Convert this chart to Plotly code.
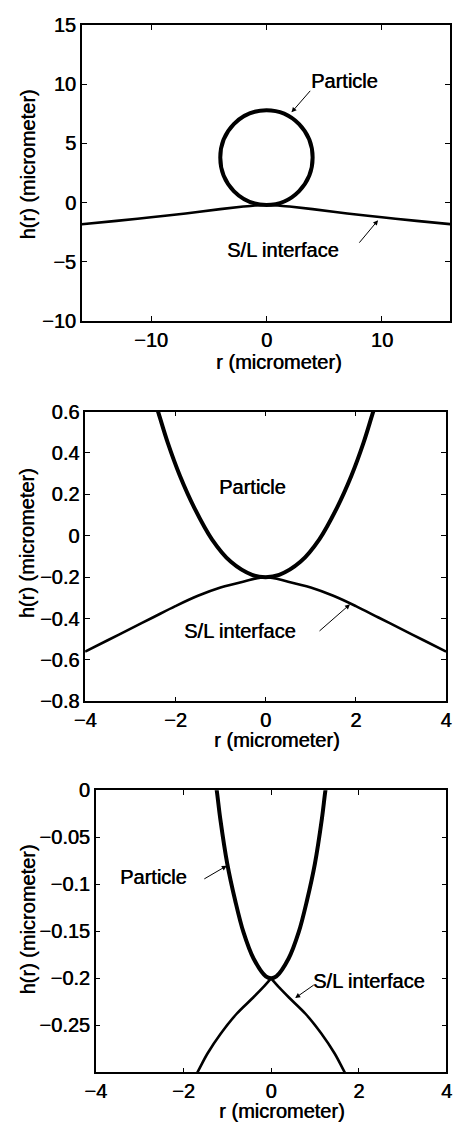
import plotly.graph_objects as go

# ---------------- data ----------------
# Panel 1 (wide view)
p1_particle_bounds = [-4.0, 4.0, -0.2, 7.8]   # left, right, bottom, top of the particle circle
p1_iface_r = [-16, -13, -10, -7, -4, -2, -1, 0, 1, 2, 4, 7, 10, 13, 16]
p1_iface_h = [-1.83, -1.55, -1.25, -0.93, -0.56, -0.34, -0.25, -0.2,
              -0.25, -0.34, -0.56, -0.93, -1.25, -1.55, -1.83]

# Panel 2 (medium zoom)
p2_part_r = [-2.5, -2.37, -2.17, -1.90, -1.58, -1.19, -0.77, -0.30, 0,
             0.30, 0.77, 1.19, 1.58, 1.90, 2.17, 2.37, 2.5]
p2_part_h = [0.68, 0.59, 0.45, 0.29, 0.135, -0.017, -0.126, -0.189, -0.2,
             -0.189, -0.126, -0.017, 0.135, 0.29, 0.45, 0.59, 0.68]
p2_iface_r = [-4, -3.5, -3, -2.5, -2, -1.5, -1, -0.5, 0, 0.5, 1, 1.5, 2, 2.5, 3, 3.5, 4]
p2_iface_h = [-0.56, -0.505, -0.45, -0.395, -0.34, -0.29, -0.25, -0.222, -0.2,
              -0.222, -0.25, -0.29, -0.34, -0.395, -0.45, -0.505, -0.56]

# Panel 3 (close zoom)
p3_part_r = [-1.32, -1.24, -1.16, -1.0, -0.82, -0.63, -0.40, -0.12, 0,
             0.12, 0.40, 0.63, 0.82, 1.0, 1.16, 1.24, 1.32]
p3_part_h = [0.024, 0.0, -0.03, -0.078, -0.117, -0.151, -0.179, -0.198, -0.2,
             -0.198, -0.179, -0.151, -0.117, -0.078, -0.03, 0.0, 0.024]
# S/L interface in panel 3: left and right branches meeting at the cusp r = 0
p3_iface_left_r = [0, -0.2, -0.42, -0.79, -1.15, -1.45, -1.68, -1.9]
p3_iface_left_h = [-0.2, -0.2105, -0.221, -0.238, -0.259, -0.28, -0.3, -0.318]
p3_iface_right_r = [0, 0.2, 0.42, 0.79, 1.15, 1.45, 1.68, 1.9]
p3_iface_right_h = [-0.2, -0.2105, -0.221, -0.238, -0.259, -0.28, -0.3, -0.318]

# tick values
p1_xticks = [-10, 0, 10]
p1_yticks = [-10, -5, 0, 5, 10, 15]
p2_xticks = [-4, -2, 0, 2, 4]
p2_yticks = [-0.8, -0.6, -0.4, -0.2, 0, 0.2, 0.4, 0.6]
p3_xticks = [-4, -2, 0, 2, 4]
p3_yticks = [-0.25, -0.2, -0.15, -0.1, -0.05, 0]

x_title = "r (micrometer)"
y_title = "h(r) (micrometer)"

# ---------------- layout geometry ----------------
W, H = 456, 1133
FONT = "Liberation Sans, Arial, Helvetica, sans-serif"
FS = 20
SHADOW = "0.5px 0px 0px black"

def xdom(l, r):
    return [l / W, r / W]

def ydom(top, bottom):
    return [1 - bottom / H, 1 - top / H]

panels = [
    dict(xd=xdom(73.5, 456), yd=ydom(14.3, 316), xr=[-16, 15.9], yr=[-10, 15],
         xt=p1_xticks, yt=p1_yticks),
    dict(xd=xdom(77, 452), yd=ydom(408.5, 704), xr=[-4, 4], yr=[-0.8, 0.6],
         xt=p2_xticks, yt=p2_yticks),
    dict(xd=xdom(88, 452.3), yd=ydom(794.7, 1082.3), xr=[-4, 4], yr=[-0.3, 0],
         xt=p3_xticks, yt=p3_yticks),
]

fig = go.Figure()

line_part = dict(color="black", width=4)
line_if = dict(color="black", width=2.6)

def add_line(x, y, ax, line):
    sfx = "" if ax == 1 else str(ax)
    fig.add_trace(go.Scatter(x=x, y=y, mode="lines", line_shape="spline", line=line,
                             xaxis="x" + sfx, yaxis="y" + sfx, showlegend=False,
                             hoverinfo="skip"))

add_line(p1_iface_r, p1_iface_h, 1, line_if)
add_line(p2_part_r, p2_part_h, 2, line_part)
add_line(p2_iface_r, p2_iface_h, 2, line_if)
add_line(p3_part_r, p3_part_h, 3, line_part)
add_line(p3_iface_left_r, p3_iface_left_h, 3, line_if)
add_line(p3_iface_right_r, p3_iface_right_h, 3, line_if)

# particle circle in panel 1
fig.add_shape(type="circle", xref="x", yref="y",
              x0=p1_particle_bounds[0], x1=p1_particle_bounds[1],
              y0=p1_particle_bounds[2], y1=p1_particle_bounds[3],
              line=dict(color="black", width=4))

axis_common = dict(showline=True, linecolor="black", linewidth=1.5, mirror="ticks",
                   ticks="inside", ticklen=5, tickwidth=1, tickcolor="black",
                   showgrid=False, zeroline=False,
                   tickfont=dict(family=FONT, size=FS, color="black", shadow=SHADOW))

for i, p in enumerate(panels, start=1):
    sfx = "" if i == 1 else str(i)
    fig.layout["xaxis" + sfx] = dict(axis_common, domain=p["xd"], range=p["xr"],
                                     tickvals=p["xt"], anchor="y" + sfx)
    fig.layout["yaxis" + sfx] = dict(axis_common, domain=p["yd"], range=p["yr"],
                                     tickvals=p["yt"], anchor="x" + sfx)

annotations = []
tfont = dict(family=FONT, size=FS, color="black", shadow=SHADOW)

# axis titles (pixel positions)
for (xc, yc) in [(278, 358), (276, 743), (282, 1121.7)]:
    annotations.append(dict(text=x_title, xref="paper", yref="paper", x=xc / W, y=1 - yc / H,
                            xanchor="center", yanchor="middle", showarrow=False, font=tfont))
for yc in [156.7, 543, 926.7]:
    annotations.append(dict(text=y_title, xref="paper", yref="paper", x=17.5 / W, y=1 - yc / H,
                            xanchor="center", yanchor="middle", showarrow=False, textangle=-90,
                            font=tfont))

# text labels in data coordinates
labels = [
    ("Particle", "x", "y", 6.75, 10.24),
    ("S/L interface", "x", "y", 1.47, -3.98),
    ("Particle", "x2", "y2", -0.28, 0.235),
    ("S/L interface", "x2", "y2", -0.57, -0.458),
    ("Particle", "x3", "y3", -2.68, -0.0918),
    ("S/L interface", "x3", "y3", 2.23, -0.203),
]
for t, xr, yr, x, y in labels:
    annotations.append(dict(text=t, xref=xr, yref=yr, x=x, y=y, showarrow=False,
                            xanchor="center", yanchor="middle", font=tfont))

# pointer arrows: tip in data coords, tail offset in px
arrows = [
    ("x", "y", 2.17, 7.62, 20, -23),
    ("x", "y", 9.67, -1.49, -20, 24),
    ("x2", "y2", 1.87, -0.331, -32, 28),
    ("x3", "y3", -1.01, -0.0803, -24, 14),
    ("x3", "y3", 0.55, -0.221, 20, -14),
]
for xr, yr, x, y, ax, ay in arrows:
    annotations.append(dict(text="", xref=xr, yref=yr, x=x, y=y, ax=ax, ay=ay,
                            showarrow=True, arrowhead=2, arrowsize=1.0, arrowwidth=1,
                            arrowcolor="black", standoff=0, startstandoff=0))

fig.update_layout(width=W, height=H, margin=dict(l=0, r=0, t=0, b=0),
                  paper_bgcolor="white", plot_bgcolor="white",
                  annotations=annotations, showlegend=False, hovermode=False,
                  font=dict(family=FONT, size=FS, color="black"))

fig.write_html("out.html")
